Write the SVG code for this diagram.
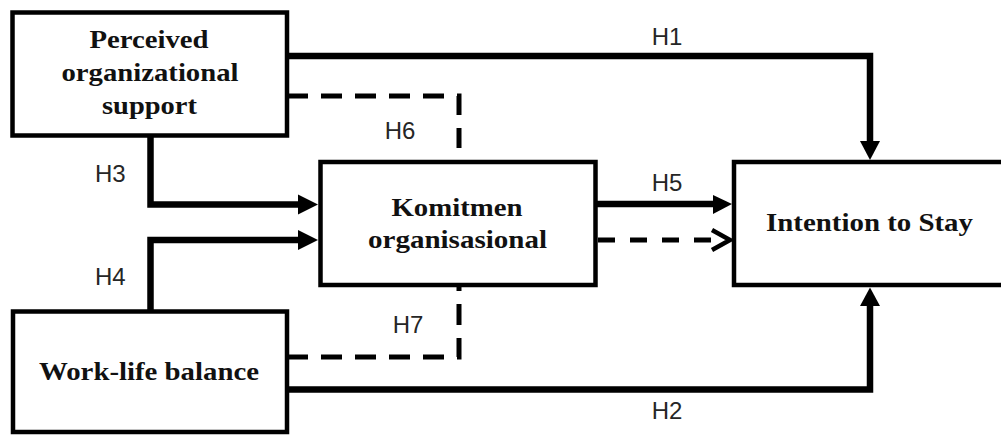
<svg xmlns="http://www.w3.org/2000/svg" width="1001" height="435" viewBox="0 0 1001 435">
  <style>
    .box { fill: #ffffff; stroke: #000000; stroke-width: 4.5; }
    .title { font-family: "Liberation Serif", "Times New Roman", serif; font-weight: bold; font-size: 25px; fill: #111111; text-anchor: middle; }
    .hyp { font-family: "Liberation Sans", Arial, sans-serif; font-size: 24px; fill: #262626; }
    .solid { fill: none; stroke: #000000; stroke-width: 6.5; stroke-linejoin: miter; }
    .dash { fill: none; stroke: #000000; stroke-width: 5; stroke-dasharray: 21 13; }
    .dash2 { fill: none; stroke: #000000; stroke-width: 5; stroke-dasharray: 17 15; }
    .head { fill: #000000; stroke: none; }
    .chevron { fill: none; stroke: #000000; stroke-width: 4.5; }
  </style>

  <!-- Nodes -->
  <g id="pos">
    <rect class="box" x="12.5" y="12.5" width="274.5" height="123"/>
    <text class="title" x="149" y="48" textLength="119" lengthAdjust="spacingAndGlyphs">Perceived</text>
    <text class="title" x="150" y="81" textLength="177" lengthAdjust="spacingAndGlyphs">organizational</text>
    <text class="title" x="149.5" y="114" textLength="95" lengthAdjust="spacingAndGlyphs">support</text>
  </g>

  <g id="wlb">
    <rect class="box" x="13" y="311.5" width="274" height="120.5"/>
    <text class="title" x="149" y="380" textLength="220" lengthAdjust="spacingAndGlyphs">Work-life balance</text>
  </g>

  <g id="komitmen">
    <rect class="box" x="320.5" y="162" width="275" height="123"/>
    <text class="title" x="457" y="216" textLength="131" lengthAdjust="spacingAndGlyphs">Komitmen</text>
    <text class="title" x="457.5" y="248" textLength="179" lengthAdjust="spacingAndGlyphs">organisasional</text>
  </g>

  <g id="intention">
    <rect class="box" x="734" y="162" width="280" height="123"/>
    <text class="title" x="869.5" y="231" textLength="207" lengthAdjust="spacingAndGlyphs">Intention to Stay</text>
  </g>

  <!-- Connectors -->
  <g id="connectors">
    <!-- H1: POS -> Intention -->
    <path class="solid" d="M287,56 H870 V142"/>
    <polygon class="head" points="860,141 880,141 870,160"/>
    <!-- H2: WLB -> Intention -->
    <path class="solid" d="M287,389.5 H870 V305"/>
    <polygon class="head" points="860,306 880,306 870,287.5"/>
    <!-- H3: POS -> Komitmen -->
    <path class="solid" d="M150.5,136 V204.5 H300"/>
    <polygon class="head" points="298,194.5 298,214.5 318,204.5"/>
    <!-- H4: WLB -> Komitmen -->
    <path class="solid" d="M150.5,311 V240 H300"/>
    <polygon class="head" points="298,230 298,250 318,240"/>
    <!-- H5: Komitmen -> Intention -->
    <path class="solid" d="M596,204 H715"/>
    <polygon class="head" points="713,195 713,214 732,204"/>
    <!-- mediated path: Komitmen -> Intention (dashed, open head) -->
    <path class="dash2" d="M598,240 H728"/>
    <polyline class="chevron" points="712,230 730,240 712,250"/>
    <!-- H6: POS via Komitmen (dashed) -->
    <path class="dash" d="M287,96 H459 V148"/>
    <!-- H7: WLB via Komitmen (dashed) -->
    <path class="dash" d="M287,357 H459 V287"/>
  </g>

  <!-- Hypothesis labels -->
  <g id="labels">
    <text class="hyp" x="667" y="45" text-anchor="middle">H1</text>
    <text class="hyp" x="667" y="419" text-anchor="middle">H2</text>
    <text class="hyp" x="95" y="182">H3</text>
    <text class="hyp" x="95" y="285">H4</text>
    <text class="hyp" x="667" y="191" text-anchor="middle">H5</text>
    <text class="hyp" x="400" y="139" text-anchor="middle">H6</text>
    <text class="hyp" x="408" y="333" text-anchor="middle">H7</text>
  </g>
</svg>
